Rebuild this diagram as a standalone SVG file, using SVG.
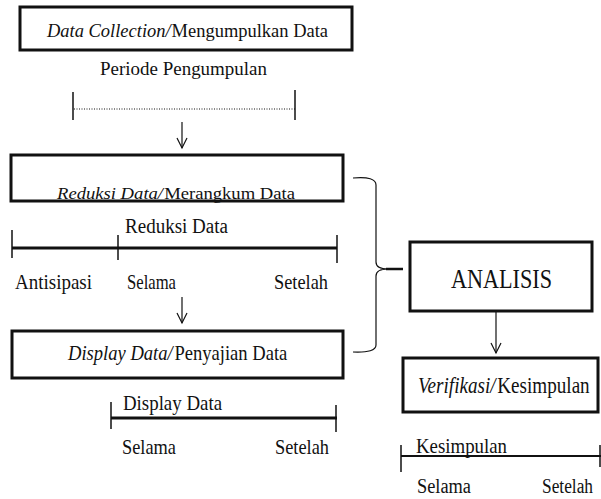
<svg xmlns="http://www.w3.org/2000/svg" width="601" height="499" viewBox="0 0 601 499" font-family="'Liberation Serif', 'Times New Roman', serif">
  <style>
    text { font-family: "Liberation Serif", "Times New Roman", "DejaVu Serif", serif; fill: #111; }
    .it { font-style: italic; }
    .box { fill: #fff; stroke: #111; stroke-width: 3; }
    .axis { stroke: #111; stroke-width: 3; fill: none; }
    .tick { stroke: #111; stroke-width: 1.5; fill: none; }
    .thin { stroke: #111; stroke-width: 1.2; fill: none; }
  </style>
  <defs>
    <marker id="chev" markerUnits="userSpaceOnUse" markerWidth="12" markerHeight="12" refX="0" refY="0" orient="auto" overflow="visible">
      <path d="M-10,-5 L0,0 L-10,5" fill="none" stroke="#111" stroke-width="1.2"/>
    </marker>
  </defs>

  <!-- Connectors -->
  <g id="connectors">
    <line class="thin" x1="182" y1="122" x2="182" y2="148" marker-end="url(#chev)"/>
    <line class="thin" x1="182" y1="297" x2="182" y2="323" marker-end="url(#chev)"/>
    <line class="thin" x1="496" y1="311" x2="496" y2="353" marker-end="url(#chev)"/>
    <!-- brace gathering reduction and display into analysis -->
    <path class="thin" d="M353,178 Q376,176 376,185 L376,262 Q376,269 388,269 Q376,269 376,276 L376,345 Q376,353 353,352"/>
    <line x1="386" y1="269" x2="403" y2="269" stroke="#111" stroke-width="2.5"/>
  </g>

  <!-- Data collection -->
  <g id="collection">
    <rect class="box" x="20" y="7" width="332" height="43"/>
    <text x="47" y="37" font-size="19" textLength="281" lengthAdjust="spacingAndGlyphs"><tspan class="it">Data Collection/</tspan><tspan dx="1">Mengumpulkan Data</tspan></text>
    <text x="100" y="75" font-size="18" textLength="167" lengthAdjust="spacingAndGlyphs">Periode Pengumpulan</text>
    <line x1="74" y1="109" x2="296" y2="109" stroke="#111" stroke-width="1" stroke-dasharray="1 1.5"/>
    <line class="tick" x1="73" y1="92" x2="73" y2="120"/>
    <line class="tick" x1="295" y1="90" x2="295" y2="120"/>
  </g>

  <!-- Data reduction -->
  <g id="reduction">
    <rect class="box" x="11" y="155" width="332" height="46"/>
    <text x="57" y="199" font-size="17" textLength="238" lengthAdjust="spacingAndGlyphs"><tspan class="it">Reduksi Data/</tspan><tspan dx="1">Merangkum Data</tspan></text>
    <text x="125" y="233" font-size="20" textLength="103" lengthAdjust="spacingAndGlyphs">Reduksi Data</text>
    <line class="axis" x1="12" y1="248" x2="337" y2="248"/>
    <line class="tick" x1="12" y1="230" x2="12" y2="258"/>
    <line class="tick" x1="118" y1="235" x2="118" y2="260"/>
    <line class="tick" x1="337" y1="235" x2="337" y2="263"/>
    <text x="15" y="289" font-size="22" textLength="77" lengthAdjust="spacingAndGlyphs">Antisipasi</text>
    <text x="127" y="289" font-size="22" textLength="49" lengthAdjust="spacingAndGlyphs">Selama</text>
    <text x="274" y="289" font-size="22" textLength="54" lengthAdjust="spacingAndGlyphs">Setelah</text>
  </g>

  <!-- Data display -->
  <g id="display">
    <rect class="box" x="12" y="331" width="331" height="47"/>
    <text transform="translate(68,360) scale(0.86,1)" x="0" y="0" font-size="22" textLength="255" lengthAdjust="spacingAndGlyphs"><tspan class="it">Display Data/</tspan><tspan dx="2">Penyajian Data</tspan></text>
    <text x="123" y="410" font-size="22" textLength="99" lengthAdjust="spacingAndGlyphs">Display Data</text>
    <line class="axis" x1="111" y1="418" x2="337" y2="418"/>
    <line class="tick" x1="111" y1="402" x2="111" y2="429"/>
    <line class="tick" x1="336" y1="405" x2="336" y2="432"/>
    <text x="122" y="454" font-size="22" textLength="54" lengthAdjust="spacingAndGlyphs">Selama</text>
    <text x="275" y="454" font-size="22" textLength="54" lengthAdjust="spacingAndGlyphs">Setelah</text>
  </g>

  <!-- Analysis -->
  <g id="analysis">
    <rect class="box" x="410" y="242" width="182" height="69"/>
    <text x="451" y="288" font-size="27" textLength="101" lengthAdjust="spacingAndGlyphs">ANALISIS</text>
  </g>

  <!-- Verification -->
  <g id="verification">
    <rect class="box" x="403" y="358" width="195" height="54" stroke-width="2.5"/>
    <text transform="translate(418,393) scale(0.85,1)" x="0" y="0" font-size="23" textLength="202" lengthAdjust="spacingAndGlyphs"><tspan class="it">Verifikasi/</tspan><tspan dx="2">Kesimpulan</tspan></text>
    <text x="416" y="453" font-size="21" textLength="91" lengthAdjust="spacingAndGlyphs">Kesimpulan</text>
    <line x1="401" y1="456" x2="601" y2="456" stroke="#111" stroke-width="2"/>
    <line class="tick" x1="401" y1="445" x2="401" y2="472"/>
    <line class="tick" x1="600" y1="445" x2="600" y2="467"/>
    <text x="417" y="493" font-size="20" textLength="54" lengthAdjust="spacingAndGlyphs">Selama</text>
    <text x="542" y="493" font-size="20" textLength="51" lengthAdjust="spacingAndGlyphs">Setelah</text>
  </g>
</svg>
